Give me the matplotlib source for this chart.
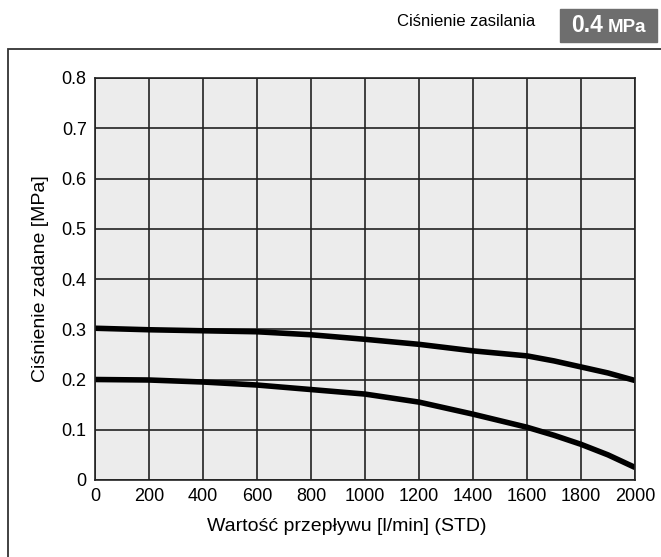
import matplotlib.pyplot as plt
from matplotlib.patches import Rectangle

plt.rcParams['font.family'] = ['Liberation Sans', 'DejaVu Sans']

flow = [0, 200, 400, 600, 800, 1000, 1200, 1400, 1600, 1700, 1800, 1900, 2000]
set_03 = [0.302, 0.299, 0.297, 0.295, 0.289, 0.280, 0.270, 0.257, 0.247, 0.237, 0.225, 0.213, 0.198]
set_02 = [0.200, 0.199, 0.195, 0.189, 0.180, 0.171, 0.155, 0.131, 0.105, 0.089, 0.071, 0.050, 0.025]

x_ticks = list(range(0, 2001, 200))
y_ticks = [0, 0.1, 0.2, 0.3, 0.4, 0.5, 0.6, 0.7, 0.8]
y_labels = ["0", "0.1", "0.2", "0.3", "0.4", "0.5", "0.6", "0.7", "0.8"]

fig = plt.figure(figsize=(6.61, 5.57), dpi=100)
ax = fig.add_axes([95/661, 1 - 480/557, 540/661, 402/557])

ax.set_facecolor("#ececec")
ax.plot(flow, set_03, color="black", lw=4, solid_capstyle="butt")
ax.plot(flow, set_02, color="black", lw=4, solid_capstyle="butt")

ax.set_xlim(0, 2000)
ax.set_ylim(0, 0.8)
ax.set_xticks(x_ticks)
ax.set_yticks(y_ticks, y_labels)
ax.grid(True, color="#222222", lw=1.2)
ax.set_axisbelow(True)
ax.tick_params(length=0, labelsize=13, pad=6)
for s in ax.spines.values():
    s.set_color("#222222")
    s.set_linewidth(1.2)

ax.set_xlabel("Wartość przepływu [l/min] (STD)", fontsize=14, labelpad=9)
ax.xaxis.set_label_coords(0.467, -0.095)
ax.set_ylabel("Ciśnienie zadane [MPa]", fontsize=14, labelpad=9)

# outer frame
fig.patches.append(Rectangle((8/661, -0.1), 1.0, 1 - 49/557 + 0.1,
                             transform=fig.transFigure, fill=False,
                             edgecolor="#333333", lw=1.3))

# supply pressure label
fig.text(535/661, 1 - 22/557, "Ciśnienie zasilania", ha="right", va="center", fontsize=12)
fig.patches.append(Rectangle((560/661, 1 - 42/557), 97/661, 33/557,
                             transform=fig.transFigure, color="#6e6e6e"))
fig.text(571/661, 1 - 26/557, "0.4", color="white", fontsize=16.5, fontweight="bold",
         ha="left", va="center")
fig.text(608/661, 1 - 27/557, "MPa", color="white", fontsize=13.5, fontweight="bold",
         ha="left", va="center")

fig.savefig("out.png", dpi=100)
